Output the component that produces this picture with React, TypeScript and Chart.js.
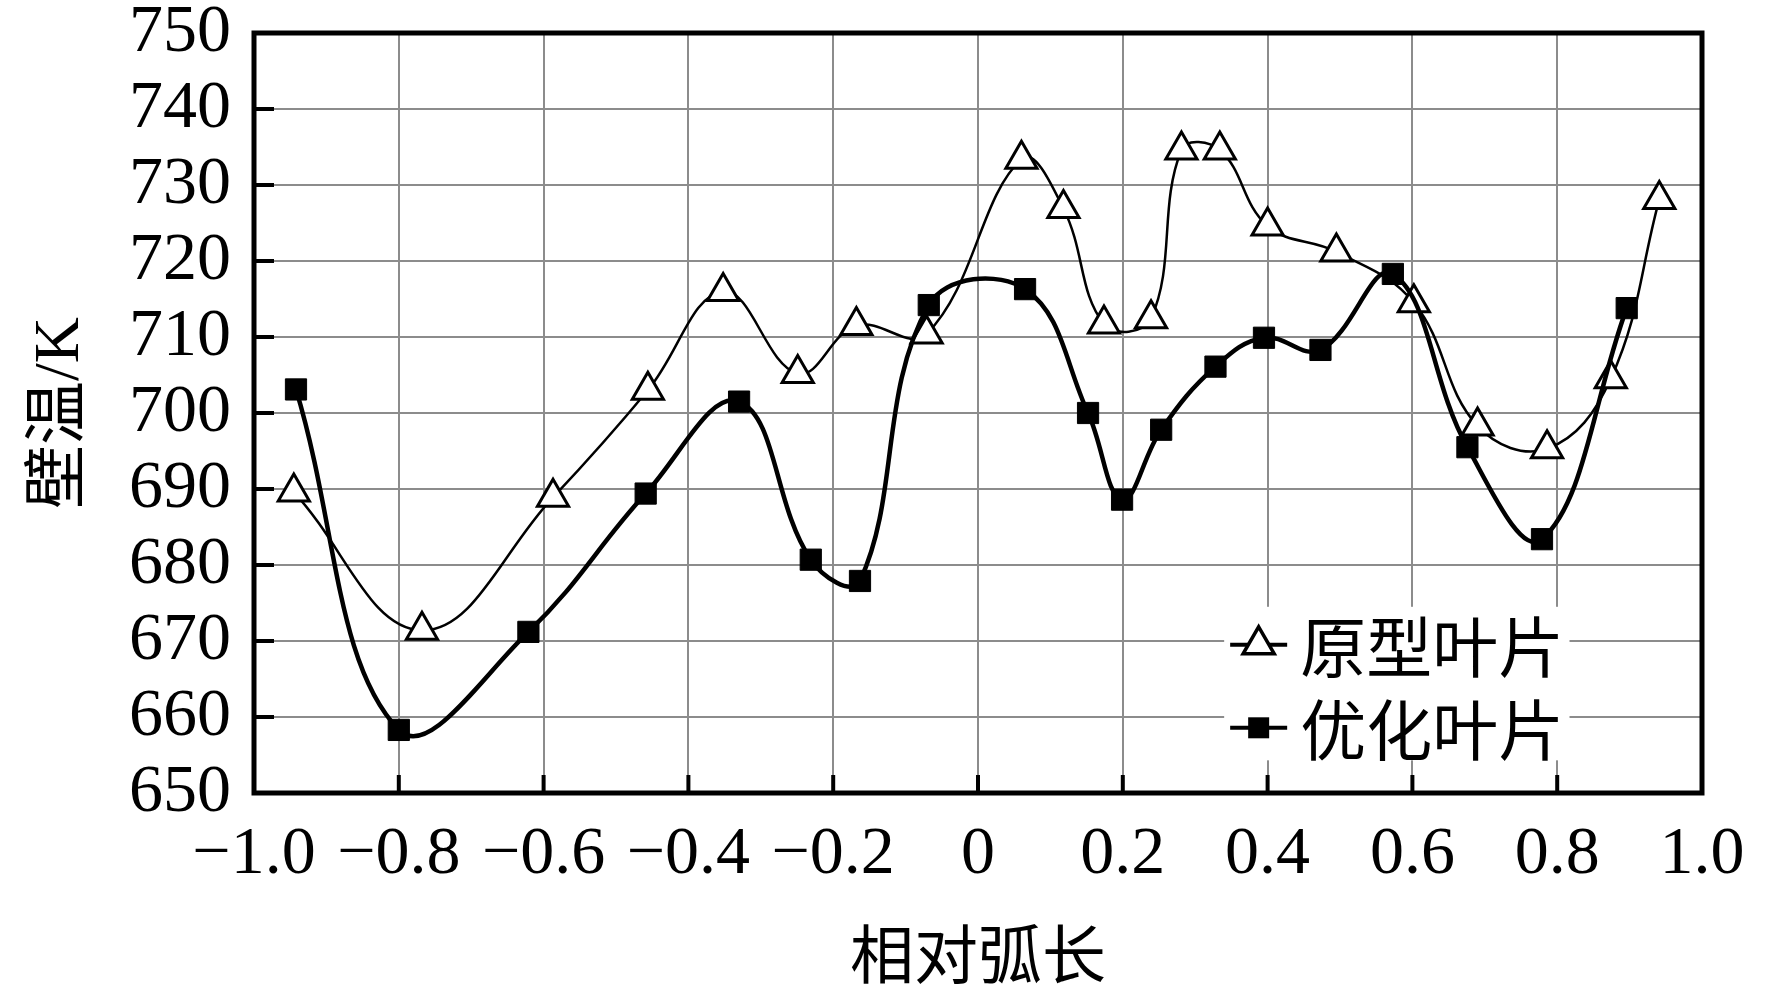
import React, { useEffect, useRef } from 'react';
import { Chart, registerables } from 'chart.js';

Chart.register(...registerables);

// ---- data ----
const seriesNames = ['原型叶片', '优化叶片'];

const protoX = [-0.945, -0.768, -0.587, -0.456, -0.352, -0.249, -0.168, -0.071, 0.060, 0.118, 0.174, 0.239, 0.281, 0.334, 0.400, 0.495, 0.602, 0.690, 0.786, 0.874, 0.941];
const protoY = [689.6, 671.4, 688.9, 703.0, 716.0, 705.2, 711.5, 710.4, 733.4, 726.9, 711.7, 712.4, 734.6, 734.6, 724.6, 721.2, 714.5, 698.3, 695.3, 704.5, 728.1];

const optX = [-0.942, -0.800, -0.621, -0.459, -0.330, -0.231, -0.163, -0.068, 0.065, 0.152, 0.199, 0.253, 0.328, 0.395, 0.473, 0.573, 0.676, 0.779, 0.896];
const optY = [703.1, 658.3, 671.2, 689.4, 701.5, 680.7, 677.9, 714.2, 716.3, 700.0, 688.6, 697.8, 706.1, 709.9, 708.3, 718.3, 695.5, 683.4, 713.8];

const xTicks = [-1.0, -0.8, -0.6, -0.4, -0.2, 0, 0.2, 0.4, 0.6, 0.8, 1.0];
const xTickLabels = ['\u22121.0', '\u22120.8', '\u22120.6', '\u22120.4', '\u22120.2', '0', '0.2', '0.4', '0.6', '0.8', '1.0'];
const yTicks = [650, 660, 670, 680, 690, 700, 710, 720, 730, 740, 750];

const xTitle = '相对弧长';
const yTitle = '壁温/K';

const W = 1772;
const H = 996;
const FONT = "'Liberation Serif', 'Noto Sans CJK SC', serif";
const CJK = "'Noto Sans CJK SC', 'Liberation Serif', sans-serif";

const framePlugin = {
  id: 'framePlugin',
  afterDraw(chart: any) {
    const { ctx, chartArea, scales } = chart;
    const { left, right, top, bottom } = chartArea;
    ctx.save();
    ctx.strokeStyle = '#000';
    ctx.lineWidth = 4;
    yTicks.forEach((v) => {
      if (v === 650 || v === 750) return;
      const y = scales.y.getPixelForValue(v);
      ctx.beginPath();
      ctx.moveTo(left, y);
      ctx.lineTo(left + 20, y);
      ctx.stroke();
    });
    xTicks.forEach((v) => {
      if (v === -1 || v === 1) return;
      const x = scales.x.getPixelForValue(v);
      ctx.beginPath();
      ctx.moveTo(x, bottom);
      ctx.lineTo(x, bottom - 18);
      ctx.stroke();
    });
    ctx.lineWidth = 5;
    ctx.strokeRect(left, top, right - left, bottom - top);
    ctx.restore();
  },
};

const legendPlugin = {
  id: 'insideLegend',
  afterDatasetsDraw(chart: any) {
    const { ctx, scales } = chart;
    const boxL = scales.x.getPixelForValue(0.34);
    const boxR = scales.x.getPixelForValue(0.817);
    const boxT = scales.y.getPixelForValue(674.5);
    const boxB = scales.y.getPixelForValue(654.3);
    ctx.save();
    ctx.fillStyle = '#fff';
    ctx.fillRect(boxL, boxT, boxR - boxL, boxB - boxT);
    const lineX0 = boxL + 6;
    const lineX1 = boxL + 63;
    const mx = (lineX0 + lineX1) / 2;
    const textX = boxL + 76;
    const rows = [boxT + 38, boxT + 121];
    ctx.strokeStyle = '#000';
    ctx.fillStyle = '#000';
    ctx.font = `66px ${CJK}`;
    ctx.textBaseline = 'middle';
    ctx.textAlign = 'left';
    seriesNames.forEach((name, i) => {
      const y = rows[i];
      ctx.lineWidth = 4;
      ctx.beginPath();
      ctx.moveTo(lineX0, y);
      ctx.lineTo(lineX1, y);
      ctx.stroke();
      if (i === 0) {
        const r = 18;
        ctx.beginPath();
        ctx.moveTo(mx, y - r);
        ctx.lineTo(mx + r * Math.sin((2 * Math.PI) / 3), y - r * Math.cos((2 * Math.PI) / 3));
        ctx.lineTo(mx + r * Math.sin((4 * Math.PI) / 3), y - r * Math.cos((4 * Math.PI) / 3));
        ctx.closePath();
        ctx.fillStyle = '#fff';
        ctx.fill();
        ctx.lineWidth = 3.5;
        ctx.stroke();
        ctx.fillStyle = '#000';
      } else {
        ctx.fillRect(mx - 10.5, y - 10.5, 21, 21);
      }
      ctx.fillText(name, textX, y + 2);
    });
    ctx.restore();
  },
};

export default function App() {
  const ref = useRef<HTMLCanvasElement | null>(null);

  useEffect(() => {
    document.body.style.margin = '0';
    const canvas = ref.current;
    if (!canvas) return;
    const chart = new Chart(canvas, {
      type: 'line',
      data: {
        datasets: [
          {
            label: seriesNames[0],
            data: protoX.map((x, i) => ({ x, y: protoY[i] })),
            borderColor: '#000',
            borderWidth: 2.5,
            tension: 0.4,
            fill: false,
            pointStyle: 'triangle',
            pointRadius: 18,
            pointBorderWidth: 3,
            pointBackgroundColor: '#fff',
            pointBorderColor: '#000',
            order: 1,
          },
          {
            label: seriesNames[1],
            data: optX.map((x, i) => ({ x, y: optY[i] })),
            borderColor: '#000',
            borderWidth: 4.5,
            tension: 0.4,
            fill: false,
            pointStyle: 'rect',
            pointRadius: 15,
            pointBorderWidth: 1,
            pointBackgroundColor: '#000',
            pointBorderColor: '#000',
            order: 0,
          },
        ],
      },
      options: {
        animation: false,
        responsive: false,
        devicePixelRatio: 1,
        layout: { padding: { top: 33, right: 70, left: 0, bottom: 0 } },
        plugins: {
          legend: { display: false },
          tooltip: { enabled: false },
        },
        scales: {
          x: {
            type: 'linear',
            min: -1,
            max: 1,
            afterBuildTicks: (scale: any) => {
              scale.ticks = xTicks.map((v) => ({ value: v }));
            },
            afterFit: (scale: any) => {
              scale.height = H - 793;
              scale.paddingLeft = 0;
              scale.paddingRight = 0;
              scale.paddingTop = 0;
              scale.paddingBottom = 0;
            },
            grid: { color: '#8c8c8c', lineWidth: 2, drawTicks: false },
            border: { display: false },
            ticks: {
              padding: 21,
              color: '#000',
              maxRotation: 0,
              autoSkip: false,
              font: { family: FONT, size: 68 },
              callback: (v: any) => {
                const idx = xTicks.findIndex((t) => Math.abs(t - Number(v)) < 1e-6);
                return idx >= 0 ? xTickLabels[idx] : '';
              },
            },
            title: {
              display: true,
              text: xTitle,
              color: '#000',
              font: { family: CJK, size: 64 },
              padding: { top: 0, bottom: 4 },
            },
          },
          y: {
            type: 'linear',
            min: 650,
            max: 750,
            afterBuildTicks: (scale: any) => {
              scale.ticks = yTicks.map((v) => ({ value: v }));
            },
            afterFit: (scale: any) => {
              scale.width = 254;
              scale.paddingLeft = 0;
              scale.paddingRight = 0;
              scale.paddingTop = 0;
              scale.paddingBottom = 0;
            },
            grid: { color: '#8c8c8c', lineWidth: 2, drawTicks: false },
            border: { display: false },
            ticks: {
              padding: 23,
              color: '#000',
              autoSkip: false,
              font: { family: FONT, size: 68 },
              callback: (v: any) => String(v),
            },
            title: {
              display: true,
              text: yTitle,
              color: '#000',
              font: { family: FONT, size: 64 },
              padding: { top: 23, bottom: 0 },
            },
          },
        },
      },
      plugins: [legendPlugin, framePlugin],
    });
    return () => chart.destroy();
  }, []);

  return (
    <div style={{ width: W, height: H, background: '#fff' }}>
      <canvas ref={ref} width={W} height={H} style={{ width: W, height: H, display: 'block' }} />
    </div>
  );
}
